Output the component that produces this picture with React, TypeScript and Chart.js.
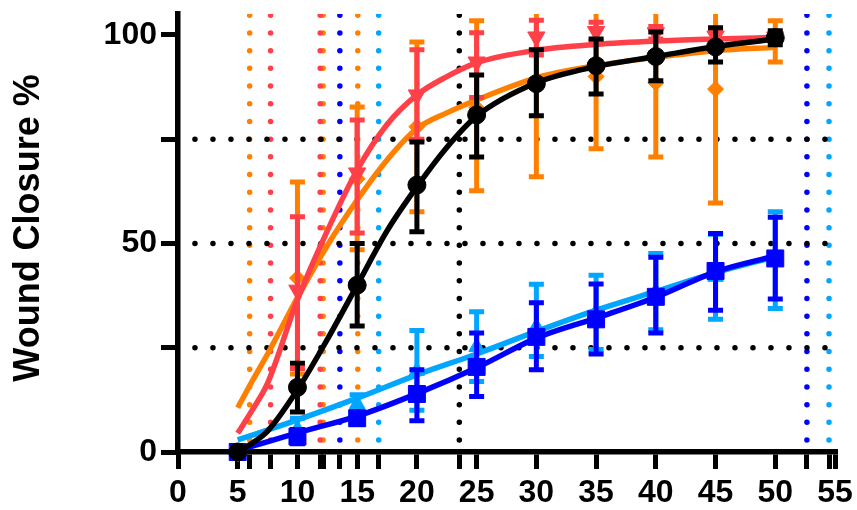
import React, { useEffect, useRef } from 'react';
import { Chart, registerables } from 'chart.js';

Chart.register(...registerables);

// ---- data ----
const xValues = [5, 10, 15, 20, 25, 30, 35, 40, 45, 50];

const blackMean = [0, 15.5, 40, 64, 80.8, 88.3, 92.6, 94.8, 97.1, 99.3];
const blackLow = [0, 9.6, 30.2, 52.8, 70.7, 80.6, 85.8, 89, 93.5, 97.6];
const blackHigh = [0, 21.3, 50, 74.3, 90.4, 96.4, 99, 100.7, 101.7, 101];

const orangeMean = [0, 41.7, 65.5, 78, 82.5, 88, 90, 88.5, 87, 98.5];
const orangeLow = [0, 18.7, 48.5, 57.6, 62.6, 66, 72.7, 70.7, 59.7, 93.5];
const orangeHigh = [0, 64.7, 82.7, 98.3, 103.4, 110, 107.5, 106.5, 114, 103.4];

const redMean = [0, 38.8, 66.9, 85.6, 93.5, 99.5, 100.8, 100.5, 99.7, 99.5];
const redLow = [0, 20, 52.5, 75, 85, 95.2, 98.5, 99, 98.5, 98.5];
const redHigh = [0, 56.4, 79.6, 96.4, 100.5, 103.5, 103, 102, 101, 100.5];

const blueMean = [0, 3.7, 8.1, 13.9, 20.4, 27.6, 31.8, 37.2, 43.4, 46.4];
const blueLow = [0, 2, 6.6, 7.5, 13.3, 19.7, 23.5, 28.5, 34, 36.7];
const blueHigh = [0, 5.4, 9.6, 19.7, 28.5, 35.8, 40.3, 46.7, 52.4, 56.3];

const lightMean = [0, 5.5, 11.5, 19.5, 25.2, 30, 33.5, 38.5, 42, 46];
const lightLow = [0, 3, 9.3, 10, 16.9, 22.9, 24.6, 29.3, 31.8, 34.4];
const lightHigh = [0, 8.1, 13.7, 29.1, 33.6, 40.2, 42.4, 47.6, 52.2, 57.6];

// fitted curves
const sigX = [5, 6.25, 7.5, 10, 12.5, 15, 17.5, 20, 22.5, 25, 30, 35, 40, 45, 50];
const blackCurve = [0, 2.2, 5, 14.9, 27, 40, 53, 63.6, 73, 80.5, 88.5, 92.4, 94.8, 97.2, 99];
const orangeCurve = [10.6, 17.2, 23.5, 37, 49.5, 60.4, 70, 77.5, 81.3, 84.4, 89.7, 92.6, 94.6, 96.2, 97];
const redCurve = [4.5, 10.2, 16.5, 36.5, 53, 67.6, 78.5, 85.6, 90, 93.3, 96.3, 97.7, 98.5, 99, 99.4];
const linX = [5, 10, 15, 20, 25, 30, 35, 40, 45, 50];
const lightCurve = [2.9, 7.7, 12.9, 18.5, 23.5, 28.9, 34, 38.5, 43, 46.8];
const blueCurve = [0.3, 4.6, 8.6, 14, 20.2, 27.3, 32.1, 37.1, 43.2, 47];

// reference lines
const vLineX = [6.0, 7.75, 11.9, 12.15, 13.55, 15.05, 16.8, 23.55, 52.65, 54.5];
const vLineSeries = ['orange', 'red', 'red', 'orange', 'blue', 'orange', 'light', 'black', 'blue', 'light'];
const hLineY = [25, 50, 75];

const xLabelTicks = [0, 5, 10, 15, 20, 25, 30, 35, 40, 45, 50, 55];
const yTicks = [0, 25, 50, 75, 100];
const yLabelTicks = [0, 50, 100];

// ---- styles ----
const COLORS: Record<string, string> = {
  black: '#000000',
  orange: '#FF8000',
  red: '#FF4049',
  blue: '#0000FF',
  light: '#00A6FF',
};
const FONT = '"Liberation Sans", Arial, sans-serif';

const errorBarPlugin = {
  id: 'errorBars',
  beforeDatasetDraw(chart: any, args: any) {
    const ds: any = chart.data.datasets[args.index];
    if (!ds.errLow) return;
    const { ctx, chartArea, scales } = chart;
    ctx.save();
    ctx.beginPath();
    ctx.rect(chartArea.left, chartArea.top, chartArea.right - chartArea.left, chartArea.bottom - chartArea.top);
    ctx.clip();
    ctx.strokeStyle = ds.borderColor;
    ctx.lineWidth = 5;
    ctx.lineCap = 'butt';
    const half = 7.5;
    ds.data.forEach((p: any, i: number) => {
      const lo = ds.errLow[i];
      const hi = ds.errHigh[i];
      if (hi - lo < 0.01) return;
      const x = scales.x.getPixelForValue(p.x);
      const yl = scales.y.getPixelForValue(lo);
      const yh = scales.y.getPixelForValue(hi);
      ctx.beginPath();
      ctx.moveTo(x, yl);
      ctx.lineTo(x, yh);
      ctx.moveTo(x - half, yl);
      ctx.lineTo(x + half, yl);
      ctx.moveTo(x - half, yh);
      ctx.lineTo(x + half, yh);
      ctx.stroke();
    });
    ctx.restore();
  },
};

function pts(xs: number[], ys: number[]) {
  return xs.map((x, i) => ({ x, y: ys[i] }));
}

function curveDs(key: string, xs: number[], ys: number[], order: number) {
  return {
    type: 'line',
    data: pts(xs, ys),
    borderColor: COLORS[key],
    borderWidth: 5.5,
    pointRadius: 0,
    cubicInterpolationMode: 'monotone',
    fill: false,
    order,
  };
}

function pointDs(key: string, mean: number[], lo: number[], hi: number[], style: string, radius: number, rotation: number, order: number) {
  return {
    type: 'line',
    showLine: false,
    data: pts(xValues, mean),
    borderColor: COLORS[key],
    backgroundColor: COLORS[key],
    pointBackgroundColor: COLORS[key],
    pointBorderColor: COLORS[key],
    pointBorderWidth: 1,
    pointStyle: style,
    pointRadius: radius,
    pointRotation: rotation,
    errLow: lo,
    errHigh: hi,
    clip: false,
    order,
  };
}

export default function App() {
  const ref = useRef<HTMLCanvasElement>(null);

  useEffect(() => {
    const dotted: any[] = [];
    vLineX.forEach((x, i) => {
      dotted.push({
        type: 'line',
        data: [{ x, y: 104.7 }, { x, y: 0.5 }],
        borderColor: COLORS[vLineSeries[i]],
        borderWidth: 5.5,
        borderDash: [0, 17.7],
        borderCapStyle: 'round',
        pointRadius: 0,
        order: 200,
      });
    });
    hLineY.forEach((y) => {
      dotted.push({
        type: 'line',
        data: [{ x: 1.42, y }, { x: 54.6, y }],
        borderColor: '#000000',
        borderWidth: 5.5,
        borderDash: [0, 18],
        borderCapStyle: 'round',
        pointRadius: 0,
        order: 199,
      });
    });

    const datasets: any[] = [
      ...dotted,
      curveDs('light', linX, lightCurve, 90),
      pointDs('light', lightMean, lightLow, lightHigh, 'triangle', 9, 0, 89),
      curveDs('blue', linX, blueCurve, 80),
      pointDs('blue', blueMean, blueLow, blueHigh, 'rect', 12, 0, 79),
      curveDs('orange', sigX, orangeCurve, 70),
      pointDs('orange', orangeMean, orangeLow, orangeHigh, 'rectRot', 8, 0, 69),
      curveDs('red', sigX, redCurve, 60),
      pointDs('red', redMean, redLow, redHigh, 'triangle', 10, 180, 59),
      curveDs('black', sigX, blackCurve, 50),
      pointDs('black', blackMean, blackLow, blackHigh, 'circle', 9, 0, 49),
    ];

    const xTickValues = [...xLabelTicks, ...vLineX].sort((a, b) => a - b);

    const chart = new Chart(ref.current as HTMLCanvasElement, {
      type: 'line',
      data: { datasets } as any,
      options: {
        animation: false,
        responsive: true,
        maintainAspectRatio: false,
        events: [],
        layout: { padding: { top: 14, right: 22, bottom: 0, left: 0 } },
        plugins: { legend: { display: false }, tooltip: { enabled: false } },
        scales: {
          x: {
            type: 'linear',
            min: 0,
            max: 55,
            afterBuildTicks: (s: any) => {
              s.ticks = xTickValues.map((v) => ({ value: v }));
            },
            afterFit: (s: any) => {
              s.height = 58;
              s.paddingLeft = 0;
              s.paddingRight = 0;
            },
            ticks: {
              autoSkip: false,
              maxRotation: 0,
              padding: 5,
              color: '#000',
              font: { family: FONT, size: 32, weight: 'bold' },
              callback: (v: any) => (xLabelTicks.includes(v) ? String(v) : ''),
            },
            grid: {
              drawOnChartArea: false,
              drawTicks: true,
              tickLength: 17,
              lineWidth: 5,
              color: '#000',
            },
            border: { display: true, width: 5.5, color: '#000' },
          },
          y: {
            type: 'linear',
            min: 0,
            max: 105,
            afterBuildTicks: (s: any) => {
              s.ticks = yTicks.map((v) => ({ value: v }));
            },
            afterFit: (s: any) => {
              s.width = 178;
              s.paddingTop = 0;
              s.paddingBottom = 0;
            },
            ticks: {
              padding: 4,
              color: '#000',
              font: { family: FONT, size: 32, weight: 'bold' },
              callback: (v: any) => (yLabelTicks.includes(v) ? String(v) : ''),
            },
            grid: {
              drawOnChartArea: false,
              drawTicks: true,
              tickLength: 17,
              lineWidth: 5,
              color: '#000',
            },
            border: { display: true, width: 5.5, color: '#000' },
            title: {
              display: true,
              text: ' Wound Closure %',
              color: '#000',
              font: { family: FONT, size: 36, weight: 'bold' },
              padding: { top: 7, bottom: 0 },
            },
          },
        },
      } as any,
      plugins: [errorBarPlugin],
    });
    return () => chart.destroy();
  }, []);

  return (
    <div style={{ position: 'absolute', left: 0, top: 0, width: 857, height: 510 }}>
      <canvas ref={ref} />
    </div>
  );
}
